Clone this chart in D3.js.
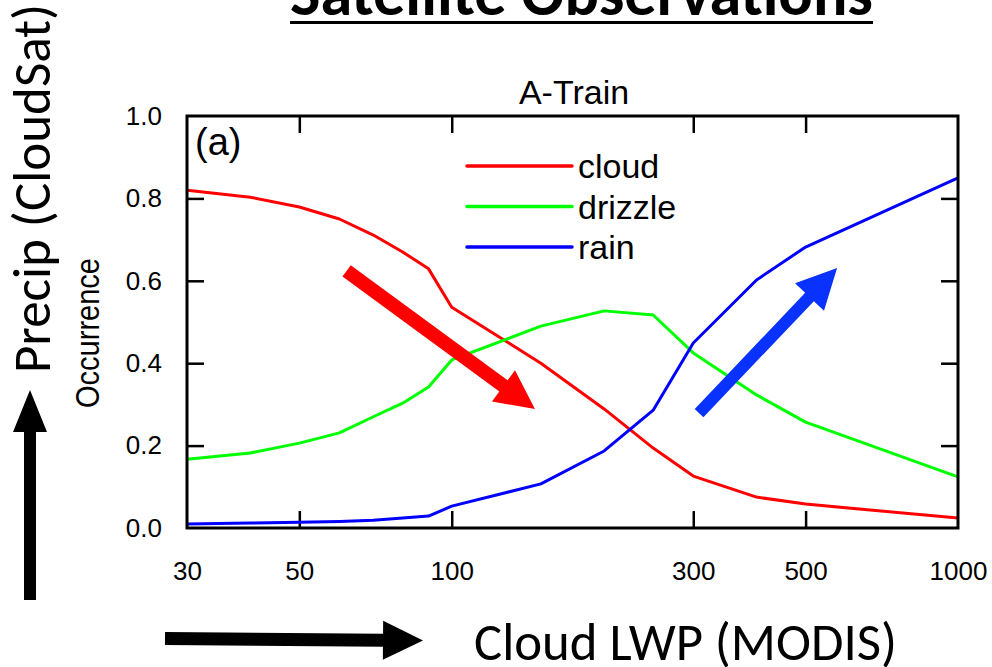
<!DOCTYPE html>
<html>
<head>
<meta charset="utf-8">
<script src="https://cdn.jsdelivr.net/npm/d3@7"></script>
<style>
  html, body { margin: 0; padding: 0; background: #fff; }
  svg text { font-family: "Liberation Sans", Arial, Helvetica, sans-serif; }
  .slide { font-family: Carlito, Lato, "Open Sans", sans-serif !important; }
</style>
</head>
<body>
<div id="chart"></div>
<script>
// data
const lwp     = [30, 40, 50, 60, 70, 80, 90, 100, 150, 200, 250, 300, 400, 500, 1000];
const cloud   = [0.820, 0.803, 0.779, 0.750, 0.711, 0.670, 0.629, 0.536, 0.400, 0.289, 0.194, 0.126, 0.075, 0.058, 0.024];
const drizzle = [0.167, 0.182, 0.206, 0.231, 0.270, 0.303, 0.342, 0.408, 0.490, 0.527, 0.517, 0.425, 0.323, 0.257, 0.124];
const rain    = [0.010, 0.012, 0.014, 0.016, 0.019, 0.024, 0.029, 0.053, 0.107, 0.187, 0.286, 0.449, 0.602, 0.682, 0.850];

const seriesNames  = ["cloud", "drizzle", "rain"];
const seriesColors = ["#ff0000", "#00ff00", "#0000ff"];
const xTickValues  = [30, 50, 100, 300, 500, 1000];
const yTickValues  = [0, 0.2, 0.4, 0.6, 0.8, 1.0];

// trend arrows, in data units: [lwp, occurrence]
const redArrow  = { from: [62, 0.624], to: [146, 0.289] };
const blueArrow = { from: [308, 0.279], to: [577, 0.631] };

const W = 992, H = 667;
const frame = { left: 187, right: 958, top: 116, bottom: 528 };

const svg = d3.select("#chart").append("svg")
  .attr("width", W).attr("height", H);

// scales
const x = d3.scaleLog().domain([30, 1000]).range([frame.left, frame.right]);
const y = d3.scaleLinear().domain([0, 1]).range([frame.bottom, frame.top]);

const innerX = xTickValues.filter(v => v !== 30 && v !== 1000);
const innerY = yTickValues.filter(v => v !== 0 && v !== 1);

// bottom axis: inward ticks + labels
const xAxis = svg.append("g")
  .attr("transform", `translate(0,${frame.bottom})`)
  .call(d3.axisBottom(x).tickValues(xTickValues).tickFormat(d3.format("d"))
    .tickSizeInner(-17).tickSizeOuter(0).tickPadding(34));
xAxis.select(".domain").remove();
xAxis.selectAll("line").filter(d => !innerX.includes(d)).remove();
xAxis.selectAll("line").attr("stroke-width", 2.5);
xAxis.selectAll("text").attr("font-size", 26).attr("fill", "#000");

// top ticks
const xTop = svg.append("g")
  .attr("transform", `translate(0,${frame.top})`)
  .call(d3.axisTop(x).tickValues(innerX).tickFormat("").tickSizeInner(-17).tickSizeOuter(0));
xTop.select(".domain").remove();
xTop.selectAll("line").attr("stroke-width", 2.5);

// left axis
const yAxis = svg.append("g")
  .attr("transform", `translate(${frame.left},0)`)
  .call(d3.axisLeft(y).tickValues(yTickValues).tickFormat(d3.format(".1f"))
    .tickSizeInner(-17).tickSizeOuter(0).tickPadding(25));
yAxis.select(".domain").remove();
yAxis.selectAll("line").filter(d => !innerY.includes(d)).remove();
yAxis.selectAll("line").attr("stroke-width", 2.5);
yAxis.selectAll("text").attr("font-size", 26).attr("fill", "#000");

// right ticks
const yRight = svg.append("g")
  .attr("transform", `translate(${frame.right},0)`)
  .call(d3.axisRight(y).tickValues(innerY).tickFormat("").tickSizeInner(-17).tickSizeOuter(0));
yRight.select(".domain").remove();
yRight.selectAll("line").attr("stroke-width", 2.5);

// lines
const series = [cloud, drizzle, rain];
const line = d3.line().x((d, i) => x(lwp[i])).y(d => y(d));
svg.append("g").selectAll("path")
  .data(series)
  .join("path")
  .attr("d", d => line(d))
  .attr("fill", "none")
  .attr("stroke", (d, i) => seriesColors[i])
  .attr("stroke-width", 3)
  .attr("stroke-linejoin", "round");

// frame
svg.append("rect")
  .attr("x", frame.left).attr("y", frame.top)
  .attr("width", frame.right - frame.left).attr("height", frame.bottom - frame.top)
  .attr("fill", "none").attr("stroke", "#000").attr("stroke-width", 3);

// legend
const legend = svg.append("g");
seriesNames.forEach((name, i) => {
  const ly = 166 + i * 40.5;
  legend.append("line")
    .attr("x1", 467).attr("x2", 572).attr("y1", ly).attr("y2", ly)
    .attr("stroke", seriesColors[i]).attr("stroke-width", 3.5).attr("stroke-linecap", "round");
  legend.append("text")
    .attr("x", 578).attr("y", ly + 12)
    .attr("font-size", 34).attr("fill", "#000")
    .text(name);
});

// panel label + titles
svg.append("text").attr("x", 195).attr("y", 155).attr("font-size", 38).text("(a)");
svg.append("text").attr("x", 574).attr("y", 104).attr("font-size", 34)
  .attr("text-anchor", "middle").text("A-Train");
svg.append("text")
  .attr("transform", "translate(99,333) rotate(-90)")
  .attr("text-anchor", "middle").attr("font-size", 33)
  .attr("textLength", 150).attr("lengthAdjust", "spacingAndGlyphs")
  .text("Occurrence");

// fat trend arrows
function fatArrow(x0, y0, x1, y1, shaftW, headL, headW) {
  const dx = x1 - x0, dy = y1 - y0, len = Math.hypot(dx, dy);
  const ux = dx / len, uy = dy / len, nx = -uy, ny = ux;
  const bx = x1 - ux * headL, by = y1 - uy * headL;
  const pts = [
    [x0 + nx * shaftW / 2, y0 + ny * shaftW / 2],
    [bx + nx * shaftW / 2, by + ny * shaftW / 2],
    [bx + nx * headW / 2, by + ny * headW / 2],
    [x1, y1],
    [bx - nx * headW / 2, by - ny * headW / 2],
    [bx - nx * shaftW / 2, by - ny * shaftW / 2],
    [x0 - nx * shaftW / 2, y0 - ny * shaftW / 2]
  ];
  return "M" + pts.map(p => p.join(",")).join("L") + "Z";
}
svg.append("path")
  .attr("d", fatArrow(x(redArrow.from[0]), y(redArrow.from[1]), x(redArrow.to[0]), y(redArrow.to[1]), 14, 39, 39))
  .attr("fill", "#ff0000");
svg.append("path")
  .attr("d", fatArrow(x(blueArrow.from[0]), y(blueArrow.from[1]), x(blueArrow.to[0]), y(blueArrow.to[1]), 12, 40, 40))
  .attr("fill", "#0a32ff");

// slide decorations
svg.append("text").attr("class", "slide")
  .attr("x", 290).attr("y", 15).attr("font-size", 64).attr("font-weight", "bold")
  .attr("textLength", 583).attr("lengthAdjust", "spacingAndGlyphs")
  .text("Satellite Observations");
svg.append("rect").attr("x", 290).attr("y", 21).attr("width", 583).attr("height", 3).attr("fill", "#000");

svg.append("text").attr("class", "slide")
  .attr("transform", "translate(50,373) rotate(-90)")
  .attr("font-size", 54)
  .attr("textLength", 369).attr("lengthAdjust", "spacingAndGlyphs")
  .text("Precip (CloudSat)");

svg.append("text").attr("class", "slide")
  .attr("x", 474).attr("y", 660).attr("font-size", 53)
  .attr("textLength", 423).attr("lengthAdjust", "spacingAndGlyphs")
  .text("Cloud LWP (MODIS)");

// black axis arrows
svg.append("path").attr("d", fatArrow(30, 600, 30, 390, 12, 42, 34)).attr("fill", "#000");
svg.append("path").attr("d", fatArrow(165, 638.5, 423, 640.5, 13, 40, 39)).attr("fill", "#000");
</script>
</body>
</html>
